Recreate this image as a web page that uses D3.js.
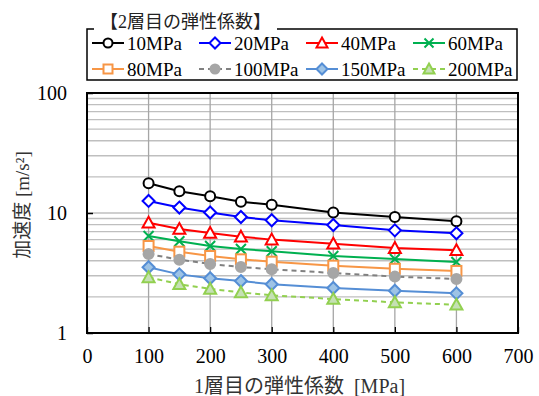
<!DOCTYPE html>
<html>
<head>
<meta charset="utf-8">
<script src="https://cdn.jsdelivr.net/npm/d3@7"></script>
<style>
  body { margin: 0; background: #fff; }
  svg text { white-space: pre; }
</style>
</head>
<body>
<div id="chart"></div>
<script>
const xValues = [100, 150, 200, 250, 300, 400, 500, 600];
const seriesNames = ['10MPa', '20MPa', '40MPa', '60MPa', '80MPa', '100MPa', '150MPa', '200MPa'];
const s10 = [17.7, 15.2, 13.8, 12.4, 11.7, 10.1, 9.26, 8.53];
const s20 = [12.6, 11.1, 10.1, 9.26, 8.7, 7.94, 7.17, 6.77];
const s40 = [8.3, 7.35, 6.81, 6.35, 6.0, 5.55, 5.1, 4.89];
const s60 = [6.43, 5.81, 5.31, 5.01, 4.8, 4.38, 4.14, 3.9];
const s80 = [5.31, 4.76, 4.38, 4.11, 3.93, 3.64, 3.43, 3.29];
const s100 = [4.55, 4.08, 3.76, 3.55, 3.4, 3.16, 2.95, 2.82];
const s150 = [3.53, 3.08, 2.86, 2.71, 2.55, 2.37, 2.25, 2.14];
const s200 = [2.91, 2.55, 2.33, 2.18, 2.06, 1.92, 1.8, 1.72];
const xTicks = [0, 100, 200, 300, 400, 500, 600, 700];
const yTicks = [1, 10, 100];

const allSeries = [s10, s20, s40, s60, s80, s100, s150, s200];
const styles = [
  { stroke: '#000000', fill: '#ffffff', marker: 'circle', dash: null },
  { stroke: '#0000ff', fill: '#ffffff', marker: 'diamond', dash: null },
  { stroke: '#ff0000', fill: '#ffffff', marker: 'triangle', dash: null },
  { stroke: '#00b050', fill: 'none', marker: 'cross', dash: null },
  { stroke: '#f79646', fill: '#ffffff', marker: 'square', dash: null },
  { stroke: '#808080', fill: '#a6a6a6', marker: 'circle', dash: '5,4', mstroke: '#a6a6a6' },
  { stroke: '#558ed5', fill: '#9dc3e6', marker: 'diamond', dash: null },
  { stroke: '#92d050', fill: '#c5e0b4', marker: 'triangle', dash: '5,4' }
];

const serif = 'Liberation Serif, Tinos, DejaVu Serif, Noto Serif, serif';
const jp = 'Liberation Serif, Tinos, DejaVu Serif, Noto Sans CJK JP, serif';

const W = 539, H = 396;
const margin = { top: 93, right: 21, bottom: 63, left: 87 };
const iw = W - margin.left - margin.right;
const ih = H - margin.top - margin.bottom;

const svg = d3.select('#chart').append('svg')
  .attr('width', W)
  .attr('height', H);

const g = svg.append('g')
  .attr('transform', 'translate(' + margin.left + ',' + margin.top + ')');

const x = d3.scaleLinear().domain([0, 700]).range([0, iw]);
const y = d3.scaleLog().domain([1, 100]).range([ih, 0]);

// grid
const minor = [];
for (let d = 1; d < 100; d *= 10) {
  for (let k = 1; k <= 9; k++) minor.push(d * k);
}
g.selectAll('.hgrid').data(minor.filter(v => v > 1))
  .enter().append('line')
  .attr('x1', 0).attr('x2', iw)
  .attr('y1', d => y(d)).attr('y2', d => y(d))
  .attr('stroke', '#bfbfbf').attr('stroke-width', 1.3);

g.selectAll('.vgrid').data(xTicks.filter(v => v > 0 && v < 700))
  .enter().append('line')
  .attr('x1', d => x(d)).attr('x2', d => x(d))
  .attr('y1', 0).attr('y2', ih)
  .attr('stroke', '#a6a6a6').attr('stroke-width', 1.3);

// axes
const xAxis = g.append('g')
  .attr('transform', 'translate(0,' + ih + ')')
  .call(d3.axisBottom(x).tickValues(xTicks).tickSizeInner(-6).tickSizeOuter(0).tickPadding(16));
xAxis.attr('font-family', serif);
xAxis.select('.domain').remove();
xAxis.selectAll('line').attr('stroke', '#000').attr('stroke-width', 1.3);
xAxis.selectAll('text').attr('font-size', 20).attr('fill', '#000').style('font-family', serif);

const yAxis = g.append('g')
  .call(d3.axisLeft(y).tickValues(yTicks).tickFormat(d3.format('d')).tickSizeInner(-6).tickSizeOuter(0).tickPadding(20));
yAxis.attr('font-family', serif);
yAxis.select('.domain').remove();
yAxis.selectAll('line').attr('stroke', '#000').attr('stroke-width', 1.5);
yAxis.selectAll('text').attr('font-size', 20).attr('fill', '#000').style('font-family', serif);

g.append('rect')
  .attr('width', iw).attr('height', ih)
  .attr('fill', 'none').attr('stroke', '#000').attr('stroke-width', 2);

// series
const line = d3.line()
  .x((d, i) => x(xValues[i]))
  .y(d => y(d));

function drawMarker(sel, st, r) {
  if (st.marker === 'circle') {
    sel.append('circle').attr('r', r)
      .attr('fill', st.fill).attr('stroke', st.mstroke || st.stroke).attr('stroke-width', 2);
  } else if (st.marker === 'diamond') {
    const s = r + 1;
    sel.append('path').attr('d', 'M0,' + (-s) + 'L' + s + ',0L0,' + s + 'L' + (-s) + ',0Z')
      .attr('fill', st.fill).attr('stroke', st.stroke).attr('stroke-width', 2);
  } else if (st.marker === 'triangle') {
    const s = r + 1;
    sel.append('path').attr('d', 'M0,' + (-s) + 'L' + s + ',' + (s * 0.8) + 'L' + (-s) + ',' + (s * 0.8) + 'Z')
      .attr('fill', st.fill).attr('stroke', st.stroke).attr('stroke-width', 2);
  } else if (st.marker === 'square') {
    sel.append('rect').attr('x', -r).attr('y', -r).attr('width', 2 * r).attr('height', 2 * r)
      .attr('fill', st.fill).attr('stroke', st.stroke).attr('stroke-width', 2);
  } else if (st.marker === 'cross') {
    sel.append('path').attr('d', 'M' + (-r) + ',' + (-r) + 'L' + r + ',' + r + 'M' + (-r) + ',' + r + 'L' + r + ',' + (-r))
      .attr('fill', 'none').attr('stroke', st.stroke).attr('stroke-width', 2);
  }
}

allSeries.forEach((s, si) => {
  const st = styles[si];
  g.append('path')
    .datum(s)
    .attr('d', line)
    .attr('fill', 'none')
    .attr('stroke', st.stroke)
    .attr('stroke-width', 2)
    .attr('stroke-dasharray', st.dash);
});
allSeries.forEach((s, si) => {
  const st = styles[si];
  g.selectAll('.m' + si).data(s)
    .enter().append('g')
    .attr('transform', (d, i) => 'translate(' + x(xValues[i]) + ',' + y(d) + ')')
    .each(function() { drawMarker(d3.select(this), st, 5); });
});

// axis titles
svg.append('text')
  .attr('x', margin.left + iw / 2 - 3).attr('y', 393)
  .attr('text-anchor', 'middle').attr('font-size', 20)
  .style('font-family', jp).attr('fill', '#333')
  .text('1層目の弾性係数  [MPa]');

svg.append('text')
  .attr('transform', 'translate(29,' + (margin.top + ih / 2 - 8) + ') rotate(-90)')
  .attr('text-anchor', 'middle').attr('font-size', 19)
  .style('font-family', jp).attr('fill', '#333')
  .text('加速度 [m/s²]');

// legend
const leg = svg.append('g');
leg.append('path')
  .attr('d', 'M277,29H517V80H87V29H94')
  .attr('fill', 'none').attr('stroke', '#000').attr('stroke-width', 1.5);
leg.append('text')
  .attr('x', 100).attr('y', 28)
  .attr('font-size', 18).style('font-family', jp).attr('fill', '#222')
  .text('【2層目の弾性係数】');

const colX = [92, 199, 306, 413];
const rowY = [43, 69];
seriesNames.forEach((name, i) => {
  const st = styles[i];
  const lx = colX[i % 4], ly = rowY[Math.floor(i / 4)];
  leg.append('line')
    .attr('x1', lx).attr('x2', lx + 32)
    .attr('y1', ly).attr('y2', ly)
    .attr('stroke', st.stroke).attr('stroke-width', 2)
    .attr('stroke-dasharray', st.dash);
  const mg = leg.append('g').attr('transform', 'translate(' + (lx + 16) + ',' + ly + ')');
  drawMarker(mg, st, 4.5);
  leg.append('text')
    .attr('x', lx + 35).attr('y', ly + 6.5)
    .attr('font-size', 19).style('font-family', serif)
    .text(name);
});
</script>
</body>
</html>
